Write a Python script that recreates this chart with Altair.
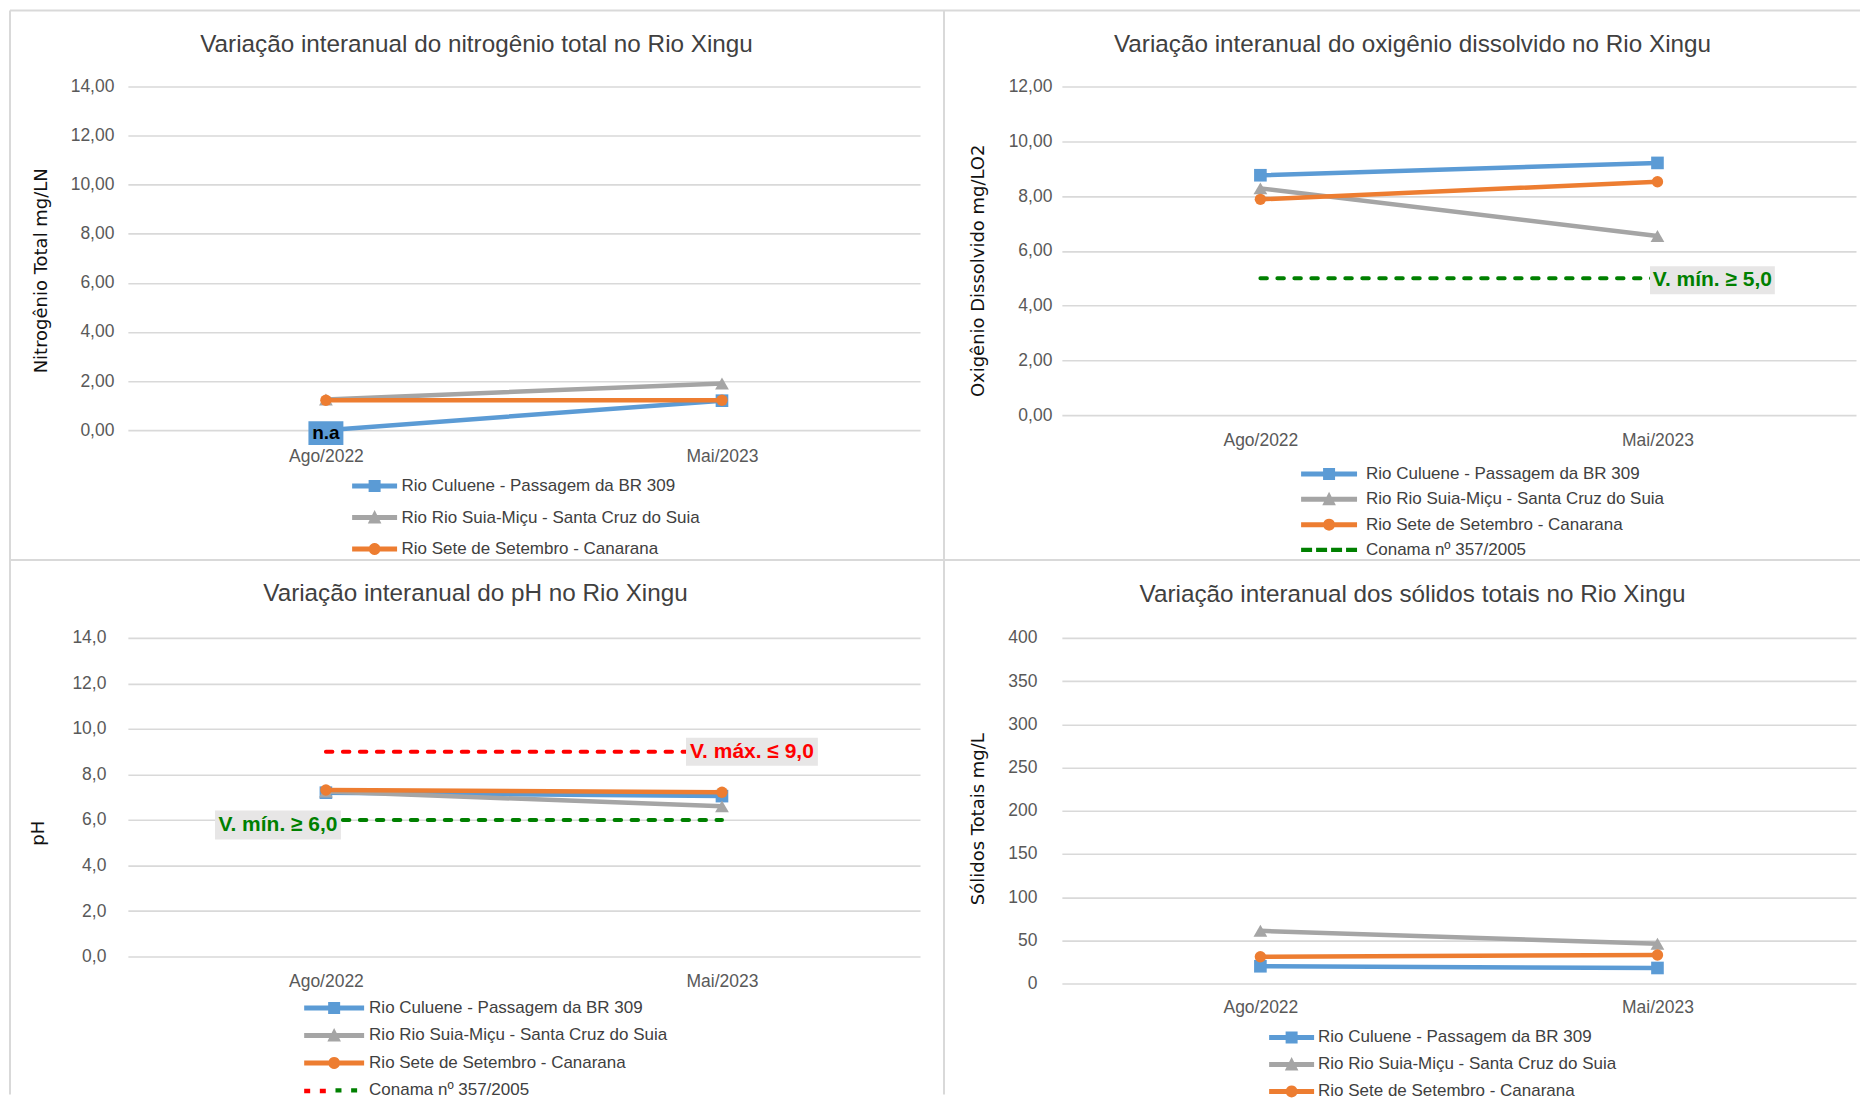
import math
import altair as alt
import pandas as pd

FONT = "Liberation Sans"
YFONT = "DejaVu Sans"
TXT = "#404040"
TICK = "#595959"
GRID = "#D9D9D9"
BORDER = "#D9D9D9"
GREEN = "#008000"
RED = "#FF0000"
BOXGRAY = "#E7E6E6"

# ---------------- data ----------------
periods = ["Ago/2022", "Mai/2023"]
series = [
    "Rio Culuene - Passagem da BR 309",
    "Rio Rio Suia-Miçu - Santa Cruz do Suia",
    "Rio Sete de Setembro  - Canarana",
]
conama_label = "Conama nº 357/2005"
series_colors = ["#5B9BD5", "#A5A5A5", "#ED7D31"]
series_markers = ["square", "triangle-up", "circle"]
marker_sizes = [160, 190, 130]

nitro_culuene = [0.00, 1.20]
nitro_suia = [1.25, 1.90]
nitro_sete = [1.22, 1.22]

oxig_culuene = [8.76, 9.21]
oxig_suia = [8.28, 6.54]
oxig_sete = [7.88, 8.52]

ph_culuene = [7.20, 7.05]
ph_suia = [7.25, 6.60]
ph_sete = [7.32, 7.22]

solidos_culuene = [20, 18]
solidos_suia = [61, 46]
solidos_sete = [31, 33]

oxig_min = 5.0
ph_max = 9.0
ph_min = 6.0

nitro_ticks = [0, 2, 4, 6, 8, 10, 12, 14]
oxig_ticks = [0, 2, 4, 6, 8, 10, 12]
ph_ticks = [0, 2, 4, 6, 8, 10, 12, 14]
solidos_ticks = [0, 50, 100, 150, 200, 250, 300, 350, 400]

DUMMY = pd.DataFrame({"k": [0]})


def long_df(cols):
    rows = []
    for s, vals in zip(series, cols):
        for p, v in zip(periods, vals):
            rows.append({"period": p, "series": s, "value": v})
    return pd.DataFrame(rows)


# ---------------- legend symbol paths (unit = 5px, symbol centre at 5px) ----------------
def pt(x, y):
    return f"{round((x - 5) / 5, 3)},{round(y / 5, 3)}"


def rect_path(x0, x1, y0, y1):
    return f"M{pt(x0, y0)}L{pt(x1, y0)}L{pt(x1, y1)}L{pt(x0, y1)}Z"


def poly_path(points):
    return "M" + "L".join(pt(x, y) for x, y in points) + "Z"


def legend_path(kind, L, t=2.5, m=6.0):
    d = rect_path(0, L, -t, t)
    c = L / 2
    if kind == "square":
        d += rect_path(c - m, c + m, -m, m)
    elif kind == "triangle-up":
        d += poly_path([(c, -m - 1.5), (c + m + 0.8, m), (c - m - 0.8, m)])
    else:
        d += poly_path([(c + m * math.cos(2 * math.pi * k / 20),
                         m * math.sin(2 * math.pi * k / 20)) for k in range(20)])
    return d


def dash_path(L, n, dash, t, first=0, last=None):
    gap = (L - n * dash) / (n - 1)
    idx = range(n)[first:last]
    return "".join(rect_path(i * (dash + gap), i * (dash + gap) + dash, -t, t) for i in idx)


def hrule(x1, x2, y):
    return alt.Chart(DUMMY).mark_rule(color=BORDER, strokeWidth=2).encode(
        x=alt.value(x1), x2=alt.value(x2), y=alt.value(y))


def vrule(x, y1, y2):
    return alt.Chart(DUMMY).mark_rule(color=BORDER, strokeWidth=2).encode(
        x=alt.value(x), y=alt.value(y1), y2=alt.value(y2))


def legend_props(lg, y_shift=0):
    return dict(title=None, orient="none", legendX=lg["x"], legendY=lg["y"] + y_shift,
                direction="vertical", symbolSize=100, symbolStrokeWidth=0,
                labelFont=FONT, labelFontSize=17, labelColor=TXT,
                labelOffset=lg["L"] + lg["gap"] - 10, labelLimit=0,
                rowPadding=lg["rowpad"], padding=0, symbolOpacity=1)


def build_panel(cfg):
    w, h = cfg["w"], cfg["h"]
    df = long_df(cfg["values"])
    xenc = alt.X("period:N",
                 scale=alt.Scale(type="point", domain=periods, padding=0.5),
                 axis=alt.Axis(title=None, labelAngle=0, domain=False, ticks=False, grid=False,
                               labelFont=FONT, labelFontSize=17.5, labelColor=TICK,
                               labelPadding=cfg["xpad"], labelBaseline="top"))
    yenc = alt.Y("value:Q",
                 scale=alt.Scale(domain=[0, cfg["ymax"]], nice=False, zero=True),
                 axis=alt.Axis(title=cfg["ytitle"], values=cfg["yticks"], labelExpr=cfg["lexpr"],
                               domain=False, ticks=False, grid=True, gridColor=GRID, gridWidth=1.6,
                               labelFont=FONT, labelFontSize=17.5, labelColor=TICK,
                               labelPadding=cfg["ypad"],
                               titleFont=YFONT, titleFontSize=18, titleFontWeight="normal",
                               titleColor="#111111", titleX=cfg["tx"], titleY=cfg["ty"],
                               titleAngle=270, titleBaseline="middle", titleAlign="center"))

    limits = cfg.get("limits", [])
    lg = cfg["legend"]
    entries = list(series)
    ent_colors = list(series_colors)
    paths = [legend_path(k, lg["L"]) for k in series_markers]
    if limits:
        entries.append(conama_label)
        ent_colors.append(GREEN)
        paths.append(lg["dash"])

    layers = list(cfg["deco"])
    for lim in limits:
        ldf = pd.DataFrame({"period": periods, "value": [lim["value"], lim["value"]]})
        layers.append(alt.Chart(ldf).mark_line(color=lim["color"], strokeWidth=4,
                                               strokeDash=[6.5, 10.5], strokeCap="round")
                      .encode(x=xenc, y=yenc))

    for i, s in enumerate(series):
        sdf = df[df.series == s]
        layers.append(alt.Chart(sdf).mark_line(color=series_colors[i], strokeWidth=4.5,
                                               strokeJoin="round", strokeCap="round")
                      .encode(x=xenc, y=yenc))
        layers.append(alt.Chart(sdf).mark_point(shape=series_markers[i], filled=True, opacity=1,
                                                size=marker_sizes[i], color=series_colors[i],
                                                strokeWidth=0)
                      .encode(x=xenc, y=yenc))

    # legend (Excel style: line + marker symbols), drawn from the legend entries
    legend = alt.Legend(**legend_props(lg))
    edf = pd.DataFrame({"entry": entries})
    layers.append(alt.Chart(edf).transform_filter("false")
                  .mark_point(filled=True, opacity=1, strokeWidth=0)
                  .encode(color=alt.Color("entry:N", scale=alt.Scale(domain=entries, range=ent_colors),
                                          legend=legend),
                          shape=alt.Shape("entry:N", scale=alt.Scale(domain=entries, range=paths),
                                          legend=legend)))
    if cfg.get("red_dash"):
        rdf = pd.DataFrame({"conama_red": [conama_label]})
        red_leg = alt.Legend(**legend_props(lg, y_shift=lg["pitch"] * 3), symbolType=cfg["red_dash"],
                             labelExpr="''")
        layers.append(alt.Chart(rdf).transform_filter("false")
                      .mark_point(filled=True, opacity=1, strokeWidth=0)
                      .encode(fill=alt.Fill("conama_red:N",
                                            scale=alt.Scale(domain=[conama_label], range=[RED]),
                                            legend=red_leg)))

    for lab in cfg.get("labels", []):
        ldf = pd.DataFrame({"period": [lab["period"]], "value": [lab["value"]], "label": [lab["text"]]})
        a = lab["w"] / lab["h"]
        box_shape = f"M{-a:.3f},-1L{a:.3f},-1L{a:.3f},1L{-a:.3f},1Z"
        layers.append(alt.Chart(ldf).mark_point(shape=box_shape, filled=True, opacity=1,
                                                size=lab["h"] ** 2, color=lab["bg"], strokeWidth=0,
                                                xOffset=lab["dx"], yOffset=lab["dy"])
                      .encode(x=xenc, y=yenc))
        layers.append(alt.Chart(ldf).mark_text(font=FONT, fontWeight="bold", fontSize=lab["fs"],
                                               color=lab["color"], dx=lab["dx"], dy=lab["dy"],
                                               align="center", baseline="middle")
                      .encode(x=xenc, y=yenc, text="label:N"))

    return alt.layer(*layers).properties(
        width=w, height=h,
        title=alt.TitleParams(text=cfg["title"], font=FONT, fontSize=24.3, fontWeight="normal",
                              color=TXT, anchor="middle", frame="group",
                              dx=cfg["tdx"], offset=cfg["toff"]))


lexpr2 = "replace(format(datum.value, '.2f'), '.', ',')"
lexpr1 = "replace(format(datum.value, '.1f'), '.', ',')"
lexpr0 = "format(datum.value, 'd')"

p1 = build_panel(dict(
    title="Variação interanual do nitrogênio total no Rio Xingu",
    ytitle="Nitrogênio Total mg/LN",
    values=[nitro_culuene, nitro_suia, nitro_sete],
    w=793, h=344, ymax=14, yticks=nitro_ticks, lexpr=lexpr2,
    xpad=17, ypad=14, tx=-86, ty=184, tdx=-47.5, toff=-47.75,
    deco=[hrule(-118, 817, -76), vrule(-118, -76, 474), vrule(817, -76, 474), hrule(-118, 817, 474)],
    legend=dict(x=221, y=391.5, L=45, gap=1, rowpad=13.5),
    labels=[dict(period=periods[0], value=nitro_culuene[0], text="n.a", w=35, h=24, dx=0, dy=3,
                 bg="#5B9BD5", color="#000000", fs=19)],
))

p2 = build_panel(dict(
    title="Variação interanual do oxigênio dissolvido no Rio Xingu",
    ytitle="Oxigênio Dissolvido mg/LO2",
    values=[oxig_culuene, oxig_suia, oxig_sete],
    w=795, h=329, ymax=12, yticks=oxig_ticks, lexpr=lexpr2,
    xpad=16, ypad=10, tx=-83, ty=184, tdx=-46.5, toff=-47.75,
    deco=[hrule(-118, 799, -76), hrule(-118, 799, 474)],
    limits=[dict(value=oxig_min, color=GREEN)],
    legend=dict(x=236, y=379.5, L=56, gap=5.5, rowpad=7.3, dash=dash_path(56, 4, 11, 2.2)),
    labels=[dict(period=periods[1], value=oxig_min, text="V. mín. ≥ 5,0", w=125, h=28, dx=55, dy=2,
                 bg=BOXGRAY, color=GREEN, fs=21)],
))

p3 = build_panel(dict(
    title="Variação interanual do pH no Rio Xingu",
    ytitle="pH",
    values=[ph_culuene, ph_suia, ph_sete],
    w=793, h=319, ymax=14, yticks=ph_ticks, lexpr=lexpr1,
    xpad=16, ypad=22, tx=-89, ty=195, tdx=-48.5, toff=-47.75,
    deco=[vrule(-118, -78, 457), vrule(817, -78, 457)],
    limits=[dict(value=ph_max, color=RED), dict(value=ph_min, color=GREEN)],
    legend=dict(x=173, y=362, L=60, gap=1.5, rowpad=9.5, pitch=27.7,
                dash=dash_path(53, 4, 6, 2.2, first=2)),
    red_dash=dash_path(53, 4, 6, 2.2, last=2),
    labels=[dict(period=periods[1], value=ph_max, text="V. máx. ≤ 9,0", w=132, h=28, dx=30, dy=0,
                 bg=BOXGRAY, color=RED, fs=21),
            dict(period=periods[0], value=ph_min, text="V. mín. ≥ 6,0", w=126, h=29, dx=-48, dy=5,
                 bg=BOXGRAY, color=GREEN, fs=21)],
))

p4 = build_panel(dict(
    title="Variação interanual dos sólidos totais no Rio Xingu",
    ytitle="Sólidos Totais mg/L",
    values=[solidos_culuene, solidos_suia, solidos_sete],
    w=795, h=346, ymax=400, yticks=solidos_ticks, lexpr=lexpr0,
    xpad=15, ypad=25, tx=-83, ty=181, tdx=-46.5, toff=22,
    deco=[],
    legend=dict(x=204, y=391.5, L=45, gap=0.5, rowpad=9),
))

chart = alt.concat(
    p1, p2, p3, p4, columns=2,
    spacing={"row": 208, "column": 142}, bounds="flush", align="each",
).resolve_scale(
    color="independent", shape="independent", fill="independent",
    x="independent", y="independent"
).resolve_legend(
    color="independent", shape="independent", fill="independent"
).configure_view(stroke=None).properties(padding=1, background="white")

chart.save("out.html", embed_options={"renderer": "svg", "actions": False})
